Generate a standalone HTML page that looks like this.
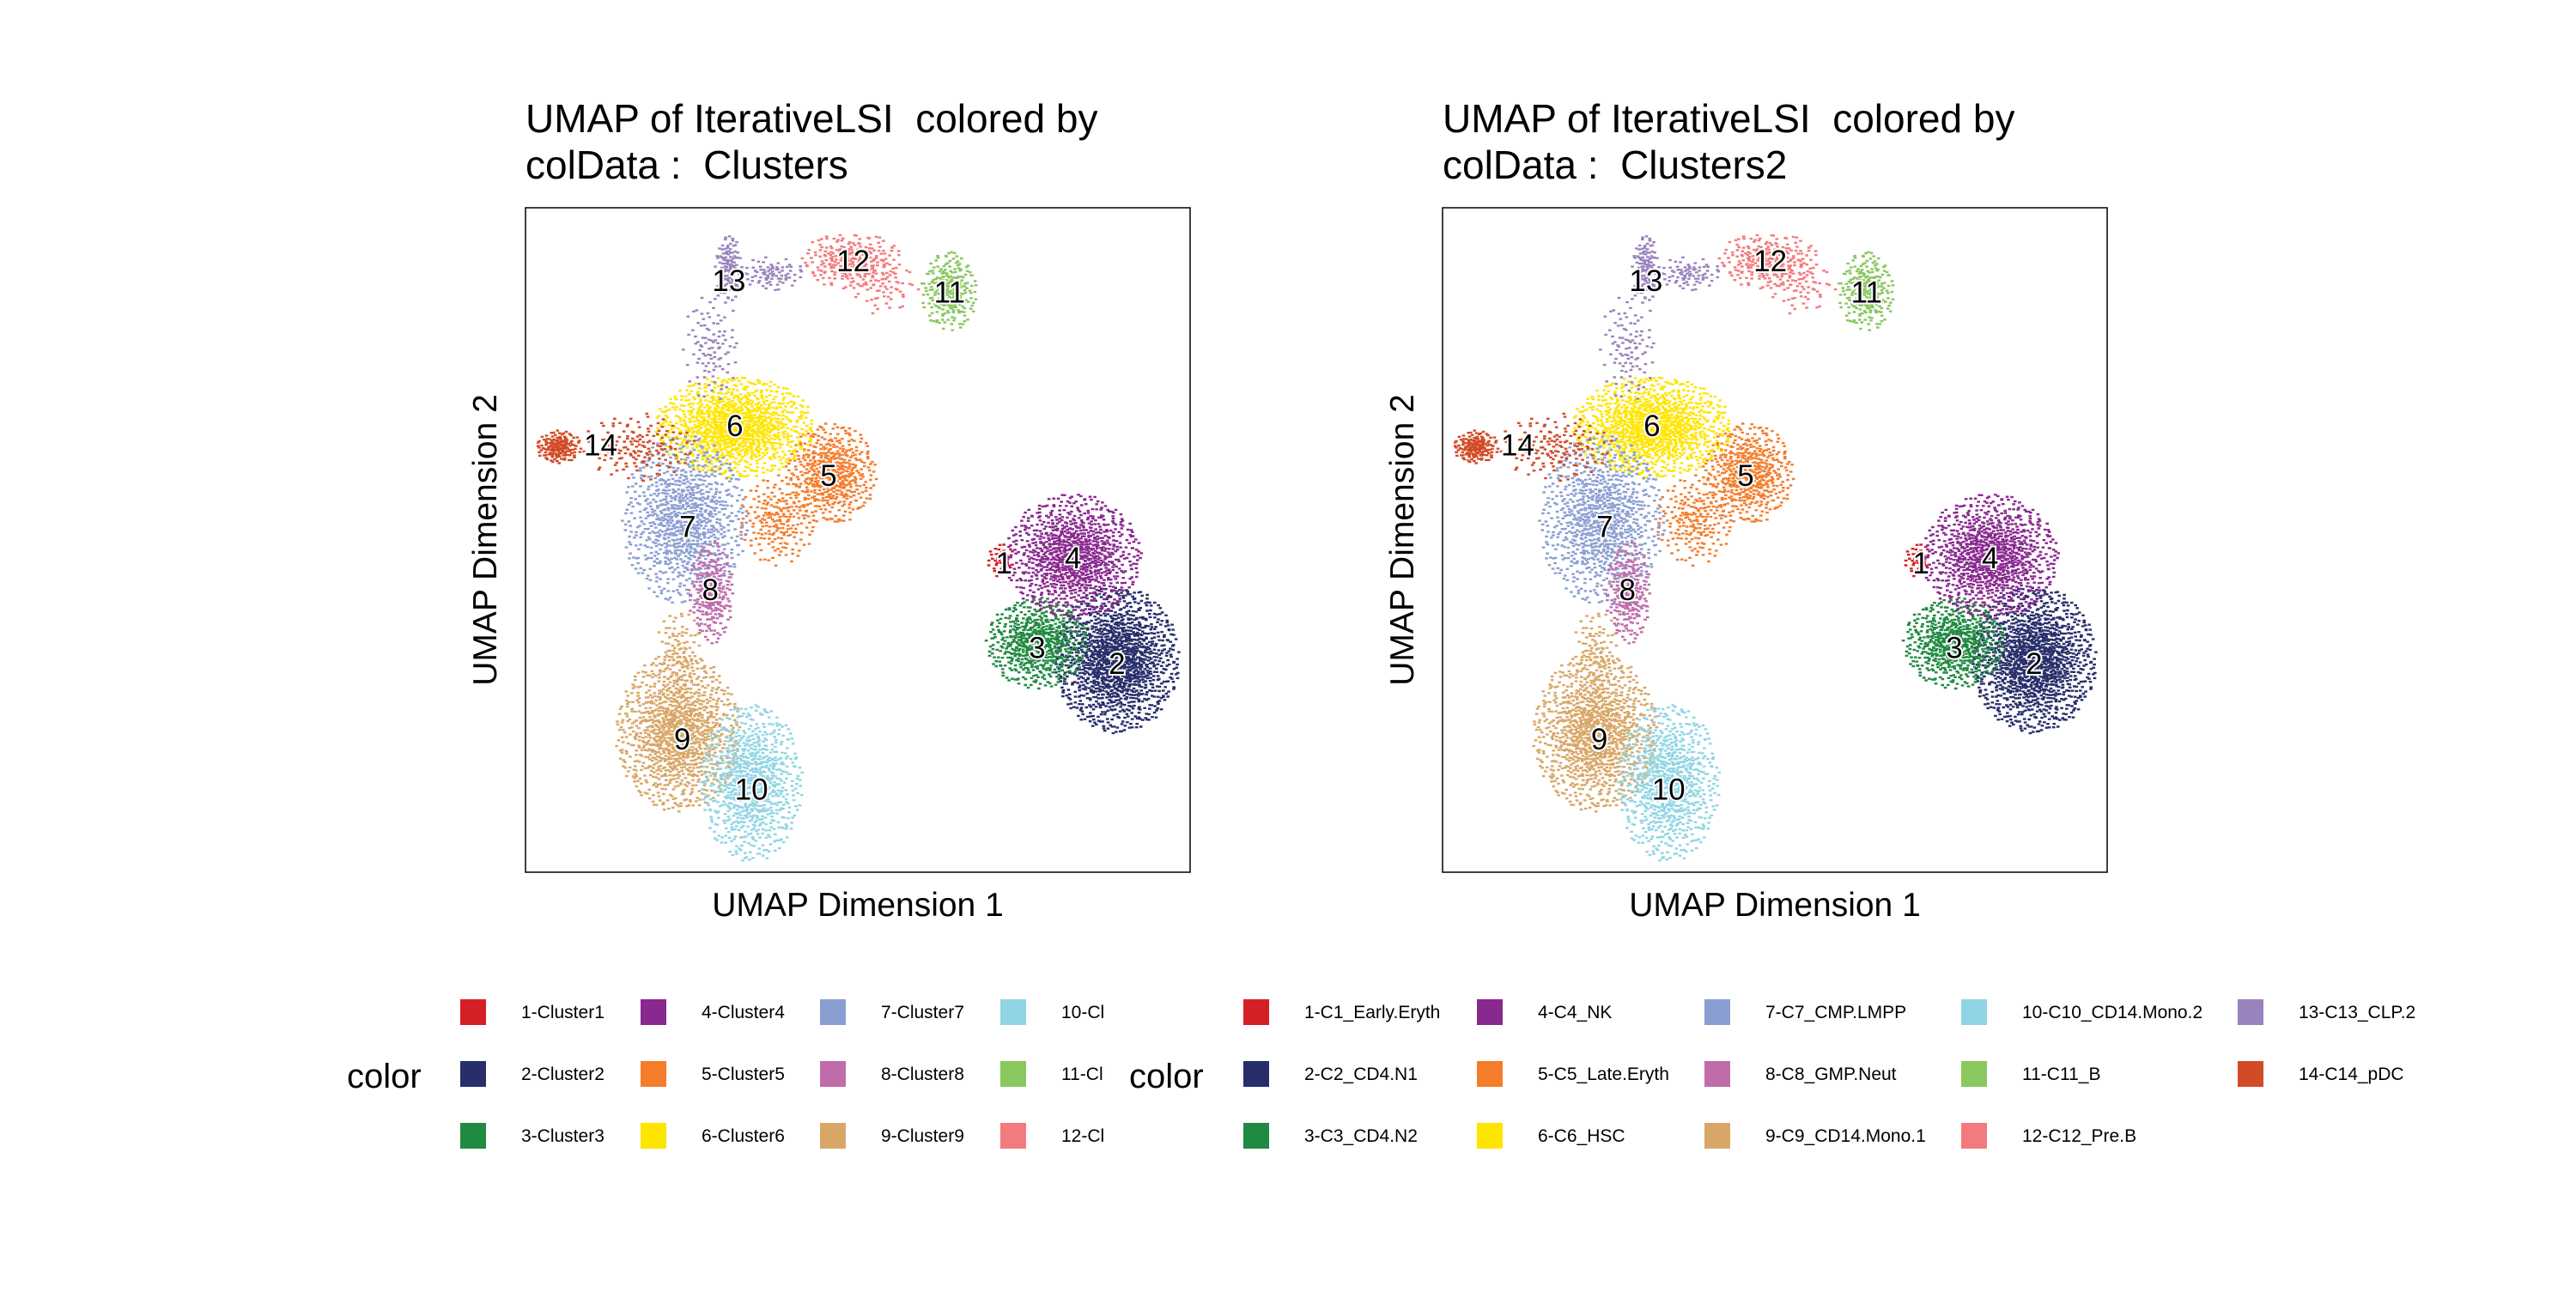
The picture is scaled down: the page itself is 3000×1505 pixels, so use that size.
<!DOCTYPE html>
<html><head><meta charset="utf-8">
<style>
html,body{margin:0;padding:0;background:#fff;}
body{width:3000px;height:1500px;overflow:hidden;font-family:"Liberation Sans",sans-serif;}
svg text{font-family:"Liberation Sans",sans-serif;white-space:pre;}
</style></head>
<body>
<svg id="chart" width="3000" height="1500" viewBox="0 0 3000 1500" xmlns="http://www.w3.org/2000/svg">
</svg>
<script>
// ---- data ----
const clusterIds = [1,2,3,4,5,6,7,8,9,10,11,12,13,14];
const clusterColors = ["#D51F26","#272E6A","#208A42","#89288F","#F47D2B","#FEE500","#8A9FD1","#C06CAB","#D8A767","#90D5E4","#89C75F","#F37B7D","#9983BD","#D24B27"];
const leftLabels = ["1-Cluster1","2-Cluster2","3-Cluster3","4-Cluster4","5-Cluster5","6-Cluster6","7-Cluster7","8-Cluster8","9-Cluster9","10-Cluster10","11-Cluster11","12-Cluster12","13-Cluster13","14-Cluster14"];
const rightLabels = ["1-C1_Early.Eryth","2-C2_CD4.N1","3-C3_CD4.N2","4-C4_NK","5-C5_Late.Eryth","6-C6_HSC","7-C7_CMP.LMPP","8-C8_GMP.Neut","9-C9_CD14.Mono.1","10-C10_CD14.Mono.2","11-C11_B","12-C12_Pre.B","13-C13_CLP.2","14-C14_pDC"];
// blob components of each cluster (UMAP coords, 0-100 scale, y down)
const blobCluster = [1,2,3,4,5,5,6,7,8,9,9,10,11,12,12,13,13,13,14,14];
const blobX =  [71.5,89,77,82.5,46,38,31.5,24,28,23,23,34,63.8,49,54,30.6,37,28,5,17];
const blobY =  [53,68,65.5,52.5,40,47,33,47,58,79,67,86.5,12.5,8,12,9,10,21,36,36];
const blobSX = [1.2,5.5,4.5,6,4,3.5,7,5.5,2,5.5,2,4.5,2.5,4.5,3,1.2,3,2.5,2,5];
const blobSY = [1.5,6.5,4,5.5,4.5,4,4.5,7.5,4.5,7,4,7,3.5,2.5,2.5,3,1.5,5,1.5,3];
const blobN =  [40,1300,600,1000,500,200,1100,900,250,1100,100,800,250,250,60,120,80,100,150,150];
// cluster label positions
const labelX = [72,89,77,82.4,45.6,31.5,24.4,27.8,23.6,34,63.8,49.3,30.6,11.3];
const labelY = [53.5,68.6,66.2,52.7,40.3,32.8,48,57.5,80,87.5,12.7,8,11,35.7];

const NS="http://www.w3.org/2000/svg";
const svg=document.getElementById('chart');
function mk(tag,attrs,parent){const e=document.createElementNS(NS,tag);for(const k in attrs)e.setAttribute(k,attrs[k]);(parent||svg).appendChild(e);return e;}
function halton(i,b){let f=1,r=0;while(i>0){f/=b;r+=f*(i%b);i=Math.floor(i/b);}return r;}

const panels=[{x0:612,title2:"colData :  Clusters",legend:leftLabels,name:"left"},
              {x0:1680,title2:"colData :  Clusters2",legend:rightLabels,name:"right"}];
const top0=242,size=774;
const spreadScale=0.78, maxR=2.2;

panels.forEach((p,pi)=>{
  const g=mk('g',{});
  
  
  const sx=v=>p.x0+v/100*size, sy=v=>top0+v/100*size;
  let t=mk('text',{x:p.x0,y:154,'font-size':46,fill:'#000','xml:space':'preserve'},g);t.textContent="UMAP of IterativeLSI  colored by";
  
  t=mk('text',{x:p.x0,y:208,'font-size':46,fill:'#000','xml:space':'preserve'},g);t.textContent=p.title2;
  
  const pts=mk('g',{},g);
  
  
  let idx=1;
  for(let b=0;b<blobN.length;b++){
    const col=clusterColors[blobCluster[b]-1];
    let d="";
    for(let k=0;k<blobN[b];k++){
      idx++;
      const u1=Math.max(1e-6,halton(idx,2)),u2=halton(idx,3);
      let r=Math.sqrt(-2*Math.log(u1));
      if(r>maxR)r=maxR*(0.85+0.15*halton(idx,5));
      const gx=r*Math.cos(2*Math.PI*u2), gy=r*Math.sin(2*Math.PI*u2);
      const x=blobX[b]+gx*blobSX[b]*spreadScale, y=blobY[b]+gy*blobSY[b]*spreadScale;
      if(x<0.5||x>99.5||y<0.5||y>99.5)continue;
      const px=sx(x),py=sy(y);
      d+="M"+(px-1.8).toFixed(1)+" "+py.toFixed(1)+"h3.6";
    }
    const path=mk('path',{d:d,stroke:col,'stroke-width':2.4,fill:'none'},pts);
    
    
  }
  const box=mk('rect',{x:p.x0,y:top0,width:size,height:size,fill:'none',stroke:'#000','stroke-width':1.5},g);
  
  
  for(let c=0;c<clusterIds.length;c++){
    const lt=mk('text',{x:sx(labelX[c]),y:sy(labelY[c])+12,'font-size':35,'text-anchor':'middle',fill:'#000',stroke:'#fff','stroke-width':4,'paint-order':'stroke'},g);
    lt.textContent=clusterIds[c];
    
    
  }
  t=mk('text',{x:p.x0+size/2,y:1067,'font-size':39,'text-anchor':'middle',fill:'#000'},g);t.textContent="UMAP Dimension 1";
  
  t=mk('text',{x:0,y:0,'font-size':39,'text-anchor':'middle',fill:'#000',transform:'translate('+(p.x0-34)+','+(top0+size/2)+') rotate(-90)'},g);t.textContent="UMAP Dimension 2";
  
});

// legends
const legLeftX=[536,746,955,1165], legRightX=[1448,1720,1985,2284,2606], legRowY=[1164,1236,1308];
function legend(labels,colXs,colorX,name,clipW){
  const g=mk('g',{});
  
  
  if(clipW){
    const cp=mk('clipPath',{id:'clip-'+name},g);
    mk('rect',{x:0,y:1100,width:clipW,height:300},cp);
    g.setAttribute('clip-path','url(#clip-'+name+')');
  }
  const ct=mk('text',{x:colorX,y:1267,'font-size':40,fill:'#000'},g);ct.textContent="color";
  
  labels.forEach((lab,i)=>{
    const col=Math.floor(i/3),row=i%3;
    if(col>=colXs.length)return;
    const x=colXs[col],y=legRowY[row];
    const r=mk('rect',{x:x,y:y,width:30,height:30,fill:clusterColors[i]},g);
    
    
    const tx=mk('text',{x:x+71,y:y+22,'font-size':21,fill:'#000'},g);tx.textContent=lab;
    
    
  });
}
legend(leftLabels,legLeftX,404,'left-legend',1286);
legend(rightLabels,legRightX,1315,'right-legend',0);
</script>
</body></html>
